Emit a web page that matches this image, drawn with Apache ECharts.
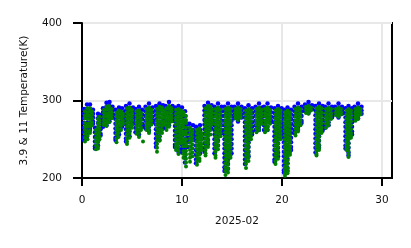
<!DOCTYPE html>
<html>
<head>
<meta charset="utf-8">
<script src="https://cdn.jsdelivr.net/npm/echarts@6/dist/echarts.min.js"></script>
<style>html,body{margin:0;padding:0;background:#fff}#c{width:411px;height:248px}</style>
</head>
<body>
<div id="c"></div>
<script>
// x: day of month (2025-02), y: brightness temperature (K)
const xTicks = [0, 10, 20, 30];
const yTicks = [200, 300, 400];
// 11 um band (green): [day, [temperatures...]]
const green11 = [
 [0.3,[286,281,277,271,266,262,257,252,247]],
 [0.55,[290,285,281,276,270,266,260,255,250]],
 [0.8,[290,286,281,276,271,266,261,258]],
 [1.0,[286,282,277,272,268]],
 [1.4,[262,257,252,247,242,237]],
 [1.6,[276,271,266,262,256,251,246,241,238]],
 [1.75,[279,274,269,264,259,254,250]],
 [2.2,[288,284,279,275,271,268]],
 [2.45,[292,288,283,279,274,270,267]],
 [2.7,[293,289,284,280,276,272]],
 [2.95,[289,285,281,277]],
 [3.45,[284,279,274,270,265,261,256,251,246]],
 [3.65,[287,283,278,273,268,263,258,253]],
 [3.9,[286,282,277,272,267,262]],
 [4.1,[283,279,274,270]],
 [4.5,[290,285,280,276,271,266,261,256,251,247,244]],
 [4.75,[291,287,282,277,272,267,262,257,252]],
 [5.0,[288,284,279,274,269,265]],
 [5.45,[286,281,276,272,267,262,257]],
 [5.7,[287,283,278,273,268,263,258,253]],
 [5.9,[284,280,275,270,265,262]],
 [6.1,[247]],
 [6.45,[289,284,279,275,270,266,262]],
 [6.7,[291,287,282,277,272,267,262,258]],
 [6.95,[288,284,279,274,269]],
 [7.5,[289,284,279,274,269,264,259,254,249,244,239,234]],
 [7.75,[292,288,283,278,273,268,263,258,253,248]],
 [8.0,[291,287,282,277,272,267,262,258]],
 [8.2,[287,283,278,273,269]],
 [8.45,[290,285,281,276,271,266,262]],
 [8.7,[293,289,284,279,275,270,266]],
 [8.95,[290,286,281,277,273]],
 [9.4,[288,283,278,274,269,264,259,254,249,244,240,236]],
 [9.65,[289,285,280,275,270,265,260,255,250,245,240,235,231]],
 [9.9,[287,283,278,273,268,263,258,253,248,245]],
 [10.15,[285,281,275,271,266,260,256,250,246,241,235,231,226]],
 [10.4,[280,275,271,265,260,256,250,245,241,235,230,225,220,215]],
 [10.8,[265,261,256,251,246,241,236,231,226,221]],
 [11.05,[262,258,253,248,243,238,233,228]],
 [11.5,[262,257,252,247,242,237,232,227,222,217]],
 [11.75,[264,260,255,250,245,240,235,230,225,222]],
 [11.95,[258,254,249,244,240,236]],
 [12.35,[290,285,280,275,271,266,261,256,251,246,241,236,232,229]],
 [12.6,[293,289,284,279,274,269,264,259,254,249,245,240]],
 [12.85,[292,287,282,277,272,267,262,256]],
 [13.0,[288,284,279,274,270]],
 [13.35,[289,284,279,274,269,264,259,254,249,244,239,234,229,226]],
 [13.6,[291,287,282,277,272,267,262,257,252,247,242,237]],
 [13.85,[288,283,278,273,268,263,258,254]],
 [14.35,[289,284,279,274,269,264,259,254,249,244,239,234,229,224,219,214,209,204]],
 [14.6,[291,287,282,277,272,267,262,257,252,247,242,237,232,227,222,217,212,207]],
 [14.85,[289,284,279,274,269,264,259,254,249,244,239,234,229,226]],
 [15.35,[289,285,281,277]],
 [15.6,[291,287,283,279,275]],
 [15.85,[289,285,281,278]],
 [16.4,[287,282,277,272,267,262,257,252,247,242,237,232,227,222,218,213]],
 [16.65,[289,285,280,275,270,265,260,255,250,245,240,235,230,226,222]],
 [16.9,[287,283,278,273,268,263,258,254,250]],
 [17.45,[289,284,279,274,269,264,259]],
 [17.7,[291,287,282,277,272,267,262]],
 [17.95,[288,284,279,274,270]],
 [18.3,[289,284,280,274,269,264,259]],
 [18.55,[291,287,282,277,272,266,262]],
 [18.8,[288,284,279,275,270]],
 [19.35,[287,282,277,272,267,262,257,252,247,242,237,232,227,222,218]],
 [19.6,[289,285,280,275,270,265,260,255,250,245,240,235,230,225]],
 [19.85,[287,283,278,273,268,263,258,254,250]],
 [20.3,[285,280,275,270,265,260,255,250,245,240,235,230,225,220,215,210,206,203]],
 [20.55,[287,283,278,273,268,263,258,253,248,243,238,233,228,223,218,213,209,206]],
 [20.8,[285,281,276,271,266,261,256,251,246,241,236,233,230]],
 [21.35,[289,284,279,274,269,264,259,255]],
 [21.6,[291,287,282,277,272,267,263,260]],
 [21.85,[289,284,279,274,270,268]],
 [22.4,[292,288,284]],
 [22.65,[293,289,285,283]],
 [22.9,[291,287]],
 [23.45,[290,285,280,275,270,265,260,255,250,245,240,235,231,229]],
 [23.7,[292,288,283,278,273,268,263,258,253,248,243,239,236]],
 [23.95,[290,285,280,275,270,265,261,258]],
 [24.4,[289,284,279,275,270,265]],
 [24.65,[291,287,282,277,272,268]],
 [24.9,[289,284,280,276]],
 [25.4,[289,285,281]],
 [25.65,[291,287,283,279]],
 [25.9,[289,285,282]],
 [26.45,[287,282,277,272,267,262,257,252,247,242,238,236]],
 [26.65,[289,285,280,275,270,265,260,255,250,245,240,235,231,227]],
 [26.9,[287,283,278,273,268,263,258,255,252]],
 [27.35,[289,285,281,277,274]],
 [27.6,[291,287,283,279,276]],
 [27.85,[289,285,282]]
];
// 3.9 um band (blue): [day, [temperatures...]]
const blue39 = [
 [0.2,[289,283,277,271,265,259,253,249]],
 [0.5,[295,289,283,277,271,265,259,254]],
 [0.8,[295,289,283,277,271,265,262]],
 [1.1,[288,283,278,273,270]],
 [1.3,[265,259,253,247,241,238]],
 [1.6,[283,277,271,265,259,253,247,242]],
 [1.85,[281,275,269,263,257,255]],
 [2.1,[290,285,280,275,270,266]],
 [2.45,[297,292,287,282,277,272,268]],
 [2.75,[298,293,288,283,278,273]],
 [3.05,[292,287,282,278]],
 [3.35,[288,282,276,270,264,258,252,249]],
 [3.7,[291,285,279,273,267,261,256]],
 [4.0,[290,284,278,272,266]],
 [4.2,[285,279,274]],
 [4.4,[293,287,281,275,269,263,257,251,247]],
 [4.75,[296,290,284,278,272,266,260,254]],
 [5.1,[291,285,279,273,270]],
 [5.35,[289,283,277,271,265,259]],
 [5.7,[292,286,280,274,268,262,256]],
 [6.0,[288,282,276,270,266]],
 [6.35,[292,286,280,274,268,264]],
 [6.7,[296,290,284,278,272,266,261]],
 [7.05,[291,285,279,274,272]],
 [7.4,[293,287,281,275,269,263,257,251,245,240]],
 [7.75,[296,290,284,278,272,266,260,254,249]],
 [8.1,[294,288,282,276,270,264]],
 [8.35,[293,287,281,275,269,266]],
 [8.7,[298,292,286,280,274,268]],
 [9.05,[293,287,281,276]],
 [9.3,[291,285,279,273,267,261,255,249,243,240]],
 [9.65,[293,287,281,275,269,263,257,251,245,239,234]],
 [10.0,[291,285,279,273,267,261,255,249,243,237,233]],
 [10.3,[286,280,274,268,262,256,250,244,238,232,226,220]],
 [10.55,[270,264,258,252,246,240]],
 [10.75,[270,264,258,252,247]],
 [11.1,[268,262,257,252]],
 [11.4,[266,260,254,248,242,236,230,224,219]],
 [11.8,[268,262,256,250,244,238,232]],
 [12.25,[293,287,281,275,269,263,257,251,245,239,234]],
 [12.6,[297,291,285,279,273,267,261,255,249,244]],
 [12.95,[294,288,282,276,270,264]],
 [13.25,[292,286,280,274,268,262,256,250,244,238,232]],
 [13.6,[296,290,284,278,272,266,260,254,248,242]],
 [13.95,[292,286,280,274,268,262,258]],
 [14.25,[292,286,280,274,268,262,256,250,244,238,232,226,220,214,209]],
 [14.6,[296,290,284,278,272,266,260,254,248,242,236,230,224,218,212]],
 [14.95,[292,286,280,274,268,262,256,250,244,238,232]],
 [15.25,[292,287,282,277]],
 [15.6,[296,291,286,281,276,273]],
 [15.95,[292,287,282,278]],
 [16.3,[290,284,278,272,266,260,254,248,242,236,230,224,218]],
 [16.65,[294,288,282,276,270,264,258,252,246,240,234,228]],
 [17.0,[290,284,278,272,266,260,256]],
 [17.35,[292,286,280,274,268,262]],
 [17.7,[296,290,284,278,272,266,262]],
 [18.0,[291,285,279,274,272]],
 [18.2,[292,286,280,274,268,262]],
 [18.55,[296,290,284,278,272,266,262]],
 [18.9,[291,285,279,274,272]],
 [19.25,[290,284,278,272,266,260,254,248,242,236,230,224,221]],
 [19.6,[293,287,281,275,269,263,257,251,245,239,233,228]],
 [19.95,[290,284,278,272,266,260,256]],
 [20.2,[288,282,276,270,264,258,252,246,240,234,228,222,216,210,207]],
 [20.55,[291,285,279,273,267,261,255,249,243,237,231,225,219,213,209]],
 [20.9,[288,282,276,270,264,258,252,246,240,236]],
 [21.25,[292,286,280,274,268,262,258]],
 [21.6,[296,290,284,278,272,266,262]],
 [21.95,[292,286,280,274,271]],
 [22.3,[295,290,286]],
 [22.65,[298,293,288,284]],
 [23.0,[294,289]],
 [23.35,[293,287,281,275,269,263,257,251,245,239,233]],
 [23.7,[296,290,284,278,272,266,260,254,248,242,239]],
 [24.05,[293,287,281,275,269,263,261]],
 [24.3,[292,286,280,274,268,265]],
 [24.65,[296,290,284,278,272,268]],
 [25.0,[292,286,281,278]],
 [25.3,[292,287,282]],
 [25.65,[296,291,286,281,278]],
 [26.0,[292,287,283]],
 [26.35,[290,284,278,272,266,260,254,248,242,238]],
 [26.65,[293,287,281,275,269,263,257,251,245,239,233,229]],
 [27.0,[290,284,278,272,266,260,256]],
 [27.25,[292,287,282,277,275]],
 [27.6,[296,291,286,281,277]],
 [27.95,[292,287,283]]
];

function toPoints(cols) {
  const out = [];
  cols.forEach(function (c) { c[1].forEach(function (t) { out.push([c[0], t]); }); });
  return out;
}

const FONT = 'DejaVu Sans';
const TXT = '#111';
const chart = echarts.init(document.getElementById('c'), null, {renderer: 'canvas'});
chart.setOption({
  animation: false,
  backgroundColor: '#fff',
  grid: {left: 82, top: 23, right: 19, bottom: 70, show: true, borderColor: '#000', borderWidth: 2, backgroundColor: 'transparent'},
  xAxis: {
    type: 'value', min: 0, max: 31, interval: 10,
    name: '2025-02', nameLocation: 'middle', nameGap: 38,
    nameTextStyle: {fontFamily: FONT, fontSize: 10.5, color: TXT},
    axisLine: {show: true, lineStyle: {color: '#000', width: 2}},
    axisTick: {show: true, inside: false, length: 8, customValues: xTicks, lineStyle: {color: '#000', width: 2}},
    axisLabel: {customValues: xTicks, margin: 17, fontFamily: FONT, fontSize: 10.5, color: TXT},
    splitLine: {show: true, lineStyle: {color: '#e8e8e8', width: 2}}
  },
  yAxis: {
    type: 'value', min: 200, max: 400, interval: 100,
    name: '3.9 & 11 Temperature(K)', nameLocation: 'middle', nameGap: 52,
    nameTextStyle: {fontFamily: FONT, fontSize: 10.5, color: TXT},
    axisLine: {show: true, lineStyle: {color: '#000', width: 2}},
    axisTick: {show: true, inside: false, length: 9, customValues: yTicks, lineStyle: {color: '#000', width: 2}},
    axisLabel: {customValues: yTicks, margin: 20, fontFamily: FONT, fontSize: 10.5, color: TXT},
    splitLine: {show: true, lineStyle: {color: '#e8e8e8', width: 2}}
  },
  series: [
    {name: '3.9', type: 'scatter', data: toPoints(blue39), symbol: 'circle', symbolSize: 4.5,
     itemStyle: {color: '#0000ff', opacity: 1}, z: 2, silent: true},
    {name: '11', type: 'scatter', data: toPoints(green11), symbol: 'circle', symbolSize: 4,
     itemStyle: {color: '#008000', opacity: 1}, z: 3, silent: true}
  ]
});
</script>
</body>
</html>
